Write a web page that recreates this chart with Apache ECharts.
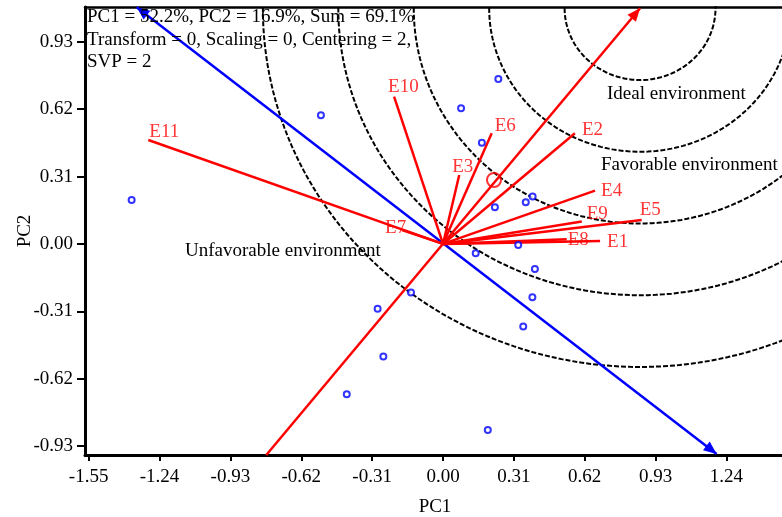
<!DOCTYPE html>
<html>
<head>
<meta charset="utf-8">
<title>GGE biplot – ideal environment</title>
<script src="https://cdn.jsdelivr.net/npm/echarts@6/dist/echarts.min.js"></script>
<style>
  html, body { margin: 0; padding: 0; background: #fff; }
  #chart { width: 782px; height: 517px; }
</style>
</head>
<body>
<div id="chart"></div>
<script>
// Axis tick positions
const pc1Ticks = [-1.55, -1.24, -0.93, -0.62, -0.31, 0, 0.31, 0.62, 0.93, 1.24];
const pc2Ticks = [-0.93, -0.62, -0.31, 0, 0.31, 0.62, 0.93];

// Genotype scores
const genoPC1 = [-1.362, -0.534, 0.242, 0.079, 0.170, 0.227, 0.362, 0.392, 0.329,
                 0.143, 0.402, 0.391, 0.351, -0.140, -0.261, -0.286, -0.421, 0.196];
const genoPC2 = [0.202, 0.592, 0.759, 0.624, 0.466, 0.169, 0.192, 0.218, -0.005,
                 -0.043, -0.115, -0.245, -0.380, -0.224, -0.518, -0.298, -0.691, -0.856];

// Environment vectors
const envNames = ['E1', 'E2', 'E3', 'E4', 'E5', 'E6', 'E7', 'E8', 'E9', 'E10', 'E11'];
const envPC1 = [0.687, 0.577, 0.071, 0.665, 0.869, 0.213, -0.179, 0.541, 0.607, -0.214, -1.289];
const envPC2 = [0.014, 0.509, 0.317, 0.245, 0.110, 0.509, 0.064, 0.022, 0.103, 0.678, 0.478];

// Average-environment axis, its orthogonal axis, the mean environment and the rings
const aeaTail = [-0.773, -0.971];
const aeaTip = [0.862, 1.084];          // ideal environment (ring centre)
const atcStart = [-1.340, 1.089];
const atcEnd = [1.197, -0.966];
const avgEnv = [0.223, 0.294];
const ringRadii = [0.33, 0.66, 0.99, 1.32, 1.65];

// Label nudges (pixels) for the environment names
const envLabelOffset = {
  E1: [7, 1], E2: [7, -3], E3: [-7, -8], E4: [6, 0], E5: [-2, -10], E6: [3, -7],
  E7: [-17, -2], E8: [1, 1], E9: [5, -8], E10: [-6, -10], E11: [1, -8]
};

const FONT = '"Liberation Serif", "Times New Roman", serif';
const FS = 19;
const RED = '#ff0000';
const BLUE = '#0000ff';

function ringPoints(c, r) {
  const pts = [];
  const n = 240;
  for (let i = 0; i <= n; i++) {
    const t = (i / n) * Math.PI * 2;
    pts.push([c[0] + r * Math.cos(t), c[1] + r * Math.sin(t)]);
  }
  return pts;
}

const ringSeries = ringRadii.map(r => ({
  type: 'line',
  data: ringPoints(aeaTip, r),
  showSymbol: false,
  symbol: 'none',
  silent: true,
  clip: true,
  z: 1,
  lineStyle: { color: '#000', width: 2, type: [5, 2] }
}));

// Filled arrowhead whose tip sits on [x, y], pointing away from [fromX, fromY]
function arrowHead(color) {
  return function (params, api) {
    const tip = api.coord([api.value(0), api.value(1)]);
    const from = api.coord([api.value(2), api.value(3)]);
    const dx = tip[0] - from[0], dy = tip[1] - from[1];
    const len = Math.hypot(dx, dy) || 1;
    const ux = dx / len, uy = dy / len;
    const L = 13, W = 11;
    const bx = tip[0] - ux * L, by = tip[1] - uy * L;
    return {
      type: 'polygon',
      shape: { points: [tip, [bx - uy * W / 2, by + ux * W / 2], [bx + uy * W / 2, by - ux * W / 2]] },
      style: { fill: color, stroke: null }
    };
  };
}

const envVectors = envNames.map((n, i) => ({ coords: [[0, 0], [envPC1[i], envPC2[i]]] }));

const chart = echarts.init(document.getElementById('chart'), null, { renderer: 'canvas' });

const axisCommon = {
  type: 'value',
  splitLine: { show: false },
  nameLocation: 'middle',
  nameMoveOverlap: false,
  nameTextStyle: { fontFamily: FONT, fontSize: FS, color: '#000' }
};

chart.setOption({
  animation: false,
  backgroundColor: '#fff',
  grid: { left: 85, right: -3, top: 7, bottom: 62, containLabel: false, outerBoundsMode: 'none' },
  xAxis: [
    Object.assign({}, axisCommon, {
      min: -1.566, max: 1.496,
      name: 'PC1', nameGap: 43,
      axisLine: { onZero: false, lineStyle: { color: '#000', width: 3 } },
      axisTick: { customValues: pc1Ticks, length: 6, lineStyle: { color: '#000', width: 2 } },
      axisLabel: {
        customValues: pc1Ticks, margin: 13, color: '#000',
        fontFamily: FONT, fontSize: FS,
        formatter: v => v.toFixed(2)
      }
    }),
    {
      type: 'value', position: 'top', min: -1.566, max: 1.496,
      axisLine: { onZero: false, lineStyle: { color: '#000', width: 2.5 } },
      axisTick: { show: false }, axisLabel: { show: false }, splitLine: { show: false }
    }
  ],
  yAxis: Object.assign({}, axisCommon, {
    min: -0.971, max: 1.090,
    name: 'PC2', nameGap: 50,
    axisLine: { onZero: false, lineStyle: { color: '#000', width: 3 } },
    axisTick: { customValues: pc2Ticks, length: 8, lineStyle: { color: '#000', width: 2 } },
    axisLabel: {
      customValues: pc2Ticks, margin: 12, color: '#000',
      fontFamily: FONT, fontSize: FS,
      formatter: v => v.toFixed(2)
    }
  }),
  series: ringSeries.concat([
    {
      // axis through the origin, perpendicular to the average-environment axis
      type: 'lines', coordinateSystem: 'cartesian2d', z: 2, silent: true,
      symbol: ['none', 'none'],
      lineStyle: { color: BLUE, width: 2.5, opacity: 1 },
      data: [{ coords: [atcStart, atcEnd] }]
    },
    {
      type: 'custom', z: 2, silent: true,
      renderItem: arrowHead(BLUE),
      data: [atcStart.concat(atcEnd), atcEnd.concat(atcStart)]
    },
    {
      // average-environment axis
      type: 'lines', coordinateSystem: 'cartesian2d', z: 3, silent: true,
      symbol: ['none', 'none'],
      lineStyle: { color: RED, width: 2.5, opacity: 1 },
      data: [{ coords: [aeaTail, aeaTip] }]
    },
    {
      type: 'custom', z: 3, silent: true,
      renderItem: arrowHead(RED),
      data: [aeaTip.concat(aeaTail)]
    },
    {
      // environment vectors
      type: 'lines', coordinateSystem: 'cartesian2d', z: 3, silent: true,
      symbol: ['none', 'none'],
      lineStyle: { color: RED, width: 2.5, opacity: 1 },
      data: envVectors
    },
    {
      // environment names
      type: 'scatter', z: 4, silent: true,
      symbolSize: 0,
      data: envNames.map((n, i) => ({
        name: n,
        value: [envPC1[i], envPC2[i]],
        label: { offset: envLabelOffset[n] }
      })),
      label: {
        show: true, position: 'right', distance: 0,
        formatter: p => p.name,
        color: RED, fontFamily: FONT, fontSize: FS
      }
    },
    {
      // mean environment
      type: 'scatter', z: 5, silent: true,
      symbol: 'circle', symbolSize: 14,
      itemStyle: { color: 'rgba(0,0,0,0)', borderColor: RED, borderWidth: 2 },
      data: [avgEnv]
    },
    {
      // genotypes
      type: 'scatter', z: 6, silent: true,
      symbol: 'circle', symbolSize: 6,
      itemStyle: { color: '#fff', borderColor: BLUE, borderWidth: 2 },
      data: genoPC1.map((x, i) => [x, genoPC2[i]])
    }
  ]),
  graphic: [
    { type: 'text', x: 87, y: 17, z: 10,
      style: { text: 'PC1 = 52.2%, PC2 = 16.9%, Sum = 69.1%', font: FS + 'px ' + FONT, fill: '#000', verticalAlign: 'middle' } },
    { type: 'text', x: 87, y: 40, z: 10,
      style: { text: 'Transform = 0, Scaling = 0, Centering = 2,', font: FS + 'px ' + FONT, fill: '#000', verticalAlign: 'middle' } },
    { type: 'text', x: 87, y: 62, z: 10,
      style: { text: 'SVP = 2', font: FS + 'px ' + FONT, fill: '#000', verticalAlign: 'middle' } },
    { type: 'text', x: 607, y: 94, z: 10,
      style: { text: 'Ideal environment', font: FS + 'px ' + FONT, fill: '#000', verticalAlign: 'middle' } },
    { type: 'text', x: 601, y: 165, z: 10,
      style: { text: 'Favorable environment', font: FS + 'px ' + FONT, fill: '#000', verticalAlign: 'middle' } },
    { type: 'text', x: 185, y: 251, z: 10,
      style: { text: 'Unfavorable environment', font: FS + 'px ' + FONT, fill: '#000', verticalAlign: 'middle' } }
  ]
});
</script>
</body>
</html>
